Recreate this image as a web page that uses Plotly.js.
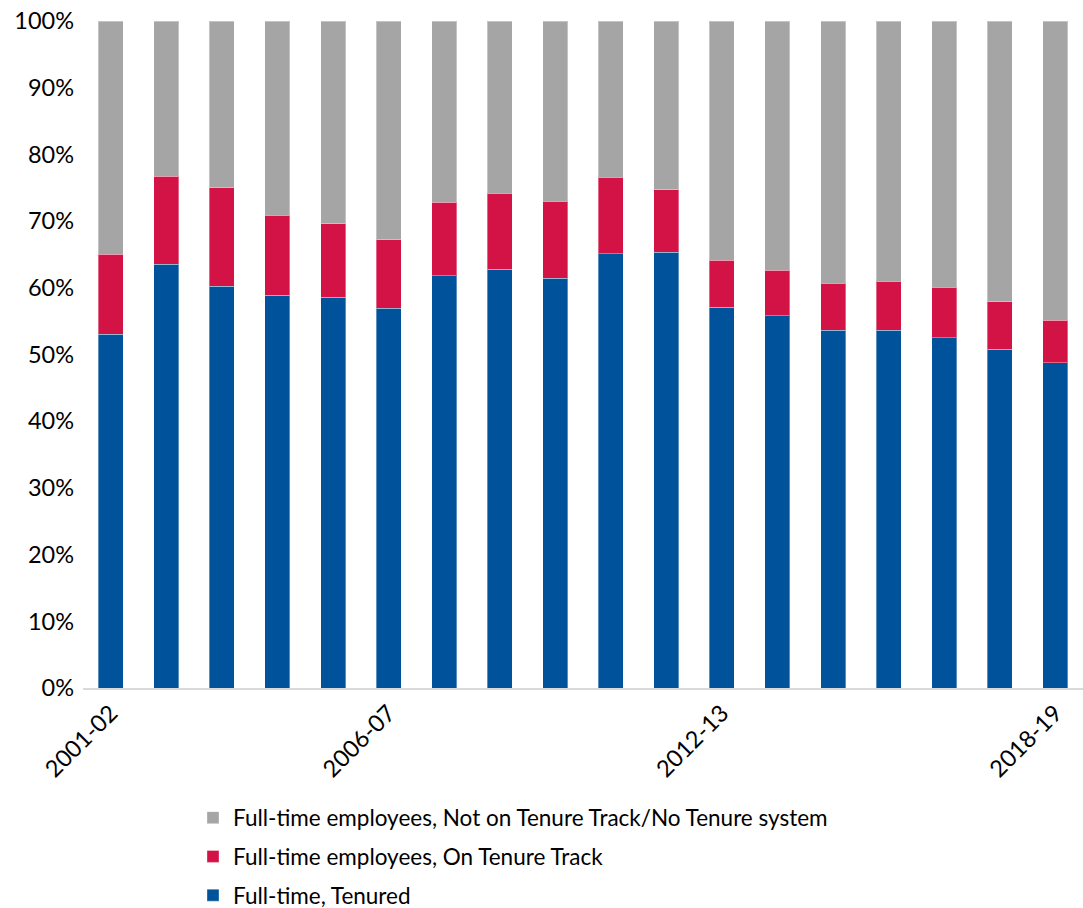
<!DOCTYPE html>
<html>
<head>
<meta charset="utf-8">
<script src="https://cdn.plot.ly/plotly-3.0.1.min.js"></script>
<style>html,body{margin:0;padding:0;background:#fff;}#chart{width:1083px;height:908px;}</style>
</head>
<body>
<div id="chart"></div>
<script>
const years = ["2001-02","2002-03","2003-04","2004-05","2005-06","2006-07","2007-08","2008-09","2009-10","2010-11","2011-12","2012-13","2013-14","2014-15","2015-16","2016-17","2017-18","2018-19"];
const tickYears = ["2001-02","2006-07","2012-13","2018-19"];
const tenured = [53.0,63.5,60.2,58.9,58.6,56.9,61.8,62.8,61.4,65.1,65.3,57.1,55.8,53.6,53.6,52.5,50.8,48.8];
const onTrack = [12.0,13.2,14.8,12.0,11.0,10.3,11.0,11.4,11.6,11.5,9.4,7.0,6.8,7.1,7.4,7.6,7.1,6.3];
const notOnTrack = [35.0,23.3,25.0,29.1,30.4,32.8,27.2,25.8,27.0,23.4,25.3,35.9,37.4,39.3,39.0,39.9,42.1,44.9];
const yTicks = [0,10,20,30,40,50,60,70,80,90,100];

const FONT = "Lato, 'Open Sans', sans-serif";
const lineStyle = {color: "rgba(255,255,255,0.35)", width: 1};

const traces = [
  {type:"bar", name:"Full-time, Tenured", x:years, y:tenured, legendgroup:"a", legendrank:3,
   marker:{color:"#00529B", line:lineStyle}, hoverinfo:"none"},
  {type:"bar", name:"Full-time employees, On Tenure Track", x:years, y:onTrack, legendgroup:"b", legendrank:2,
   marker:{color:"#D31245", line:lineStyle}, hoverinfo:"none"},
  {type:"bar", name:"Full-time employees, Not on Tenure Track/No Tenure system", x:years, y:notOnTrack, legendgroup:"c", legendrank:1,
   marker:{color:"#A5A5A5", line:lineStyle}, hoverinfo:"none"}
];

const layout = {
  width:1083, height:908,
  margin:{l:83, r:0, t:21, b:220, autoexpand:false},
  barmode:"stack",
  bargap:0.55,
  paper_bgcolor:"#fff", plot_bgcolor:"#fff",
  font:{family:FONT, color:"#000", size:21},
  showlegend:true,
  legend:{
    orientation:"v", traceorder:"grouped", tracegroupgap:6.5,
    x:0.11, xanchor:"left", y:-0.1627, yanchor:"top",
    font:{family:FONT, size:22.5, color:"#000"},
    itemwidth:30
  },
  xaxis:{
    type:"category",
    tickmode:"array", tickvals:tickYears, ticktext:tickYears,
    tickangle:-45, ticks:"", showgrid:false, zeroline:false,
    showline:true, linecolor:"#D9D9D9", linewidth:2,
    automargin:false,
    tickfont:{family:FONT, size:23.5, color:"#000"}
  },
  yaxis:{
    range:[0,100], tickmode:"array", tickvals:yTicks,
    ticktext:yTicks.map(v=>v+"%"),
    showgrid:false, zeroline:false, showline:false, ticks:"",
    ticklabelstandoff:8, automargin:false,
    tickfont:{family:FONT, size:23.5, color:"#000"}
  }
};

Plotly.newPlot("chart", traces, layout, {displayModeBar:false, staticPlot:true});
</script>
</body>
</html>
